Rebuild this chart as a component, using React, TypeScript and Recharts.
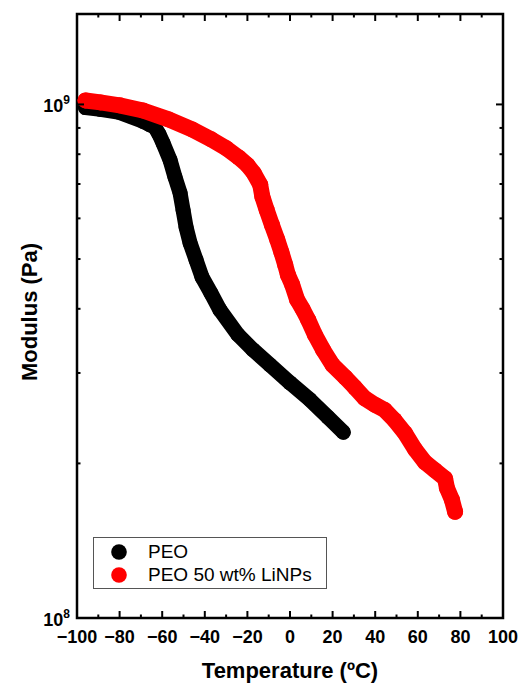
import React from "react"
import { ScatterChart, Scatter, XAxis, YAxis, ReferenceArea, Label } from "recharts"

// temperatures (ºC) and moduli (Pa)
const peoTemp = [
  -96, -89, -80, -69, -66, -63.4, -61.5, -59.6, -56.3, -54, -51.6, -50.2, -48.8, -46.9, -44.1, -41.3, -37.1, -32.9,
  -24.4, -17.4, -9.4, 0, 9.4, 17.8, 25,
]
const peoMod = [
  9.86e8, 9.78e8, 9.65e8, 9.27e8, 9.14e8, 9.03e8, 8.75e8, 8.41e8, 7.79e8, 7.22e8, 6.72e8, 6.23e8, 5.77e8, 5.37e8,
  4.98e8, 4.61e8, 4.29e8, 3.98e8, 3.56e8, 3.33e8, 3.11e8, 2.87e8, 2.66e8, 2.46e8, 2.3e8,
]

const liTemp = [
  -96, -89, -80, -69, -57, -46, -37, -30, -24, -20, -17, -14, -13, -11, -8.5, -6, -4, -2.3, -1, 1, 3.3, 6, 8.5,
  11.7, 15.5, 20, 26, 30.5, 35, 40, 44.5, 49, 54, 58.7, 63.4, 68, 72.8, 73.7, 76, 77.5,
]
const liMod = [
  1.018e9, 1.009e9, 9.96e8, 9.73e8, 9.35e8, 8.94e8, 8.55e8, 8.22e8, 7.88e8, 7.62e8, 7.35e8, 6.98e8, 6.62e8,
  6.24e8, 5.83e8, 5.46e8, 5.15e8, 4.88e8, 4.66e8, 4.46e8, 4.17e8, 3.99e8, 3.81e8, 3.56e8, 3.33e8, 3.11e8,
  2.94e8, 2.81e8, 2.68e8, 2.6e8, 2.54e8, 2.43e8, 2.29e8, 2.13e8, 2.01e8, 1.94e8, 1.87e8, 1.79e8, 1.7e8, 1.61e8,
]

const xTicks = [-100, -90, -80, -70, -60, -50, -40, -30, -20, -10, 0, 10, 20, 30, 40, 50, 60, 70, 80, 90, 100]
const yTicks = [1e8, 2e8, 3e8, 4e8, 5e8, 6e8, 7e8, 8e8, 9e8, 1e9]

const seriesNames = ["PEO", "PEO 50 wt% LiNPs"]
const seriesColors = ["#000000", "#ff0000"]

const peo = peoTemp.map((t, i) => ({ t, m: peoMod[i] }))
const li = liTemp.map((t, i) => ({ t, m: liMod[i] }))

const FONT = "'Liberation Sans', Arial, sans-serif"
const PLOT_W = 426
const PLOT_H = 604

const XTick = (props: any) => {
  const { x, y, payload } = props
  const v = payload.value
  const major = v % 20 === 0
  const len = major ? 7 : 3.5
  return (
    <g>
      <line x1={x} x2={x} y1={y} y2={y - len} stroke="#000" strokeWidth={2} />
      <line x1={x} x2={x} y1={y - PLOT_H} y2={y - PLOT_H + len} stroke="#000" strokeWidth={2} />
      {major && (
        <text x={x} y={y + 25} textAnchor="middle" fontFamily={FONT} fontWeight="bold" fontSize={18} fill="#000">
          {v < 0 ? "\u2212" + Math.abs(v) : v}
        </text>
      )}
    </g>
  )
}

const YTick = (props: any) => {
  const { x, y, payload } = props
  const v = payload.value
  const exp = Math.log10(v)
  const major = Math.abs(exp - Math.round(exp)) < 1e-6
  const len = major ? 7 : 3.5
  return (
    <g>
      <line x1={x} x2={x + len} y1={y} y2={y} stroke="#000" strokeWidth={2} />
      <line x1={x + PLOT_W} x2={x + PLOT_W - len} y1={y} y2={y} stroke="#000" strokeWidth={2} />
      {major && (
        <text x={x - 7} y={y + 8} textAnchor="end" fontFamily={FONT} fontWeight="bold" fontSize={18} fill="#000">
          <tspan>10</tspan>
          <tspan dy={-8} fontSize={12}>
            {Math.round(exp)}
          </tspan>
        </text>
      )}
    </g>
  )
}

const Dot = (color: string, r: number) => (p: any) => <circle cx={p.cx} cy={p.cy} r={r} fill={color} />

const ChartLegend = () => (
  <div
    style={{
      position: "absolute",
      left: 93,
      top: 537,
      border: "1px solid #555",
      background: "#fff",
      width: 232,
      padding: "2px 0 2px 0",
      fontFamily: FONT,
      fontSize: 19,
      color: "#000",
    }}
  >
    {seriesNames.map((n, i) => (
      <div key={n} style={{ display: "flex", alignItems: "center", height: 23 }}>
        <svg width={54} height={20}>
          <circle cx={25} cy={10} r={7.8} fill={seriesColors[i]} />
        </svg>
        <span>{n}</span>
      </div>
    ))}
  </div>
)

export default function App() {
  return (
    <div style={{ position: "absolute", left: 0, top: 0, width: 521, height: 685, background: "#fff" }}>
      <ScatterChart width={521} height={685} margin={{ top: 14, right: 18, bottom: 0, left: 0 }}>
        <XAxis
          dataKey="t"
          type="number"
          domain={[-100, 100]}
          ticks={xTicks}
          interval={0}
          height={67}
          tickSize={0}
          tickMargin={0}
          tickLine={false}
          axisLine={false}
          tick={<XTick />}
        >
          <Label
            value="Temperature (ºC)"
            position="insideBottom"
            offset={7}
            style={{ fontFamily: FONT, fontWeight: "bold", fontSize: 22, fill: "#000" }}
          />
        </XAxis>
        <YAxis
          dataKey="m"
          type="number"
          scale="log"
          domain={[1e8, 1.5e9]}
          allowDataOverflow
          ticks={yTicks}
          interval={0}
          width={77}
          tickSize={0}
          tickMargin={0}
          tickLine={false}
          axisLine={false}
          tick={<YTick />}
        >
          <Label
            content={() => (
              <text
                transform="translate(37, 312) rotate(-90)"
                textAnchor="middle"
                fontFamily={FONT}
                fontWeight="bold"
                fontSize={22}
                fill="#000"
              >
                Modulus (Pa)
              </text>
            )}
          />
        </YAxis>
        <ReferenceArea x1={-100} x2={100} y1={1e8} y2={1.5e9} fill="none" stroke="#000" strokeWidth={2.5} ifOverflow="visible" />
        <Scatter
          name={seriesNames[0]}
          data={peo}
          fill={seriesColors[0]}
          line={{ stroke: seriesColors[0], strokeWidth: 15, strokeLinejoin: "round", strokeLinecap: "round" }}
          shape={Dot(seriesColors[0], 7.5)}
          isAnimationActive={false}
        />
        <Scatter
          name={seriesNames[1]}
          data={li}
          fill={seriesColors[1]}
          line={{ stroke: seriesColors[1], strokeWidth: 16, strokeLinejoin: "round", strokeLinecap: "round" }}
          shape={Dot(seriesColors[1], 8)}
          isAnimationActive={false}
        />
      </ScatterChart>
      <ChartLegend />
    </div>
  )
}
